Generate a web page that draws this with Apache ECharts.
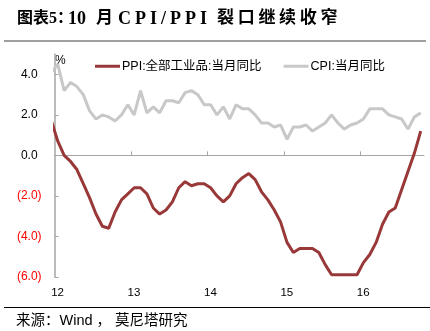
<!DOCTYPE html>
<html>
<head>
<meta charset="utf-8">
<script src="https://cdn.jsdelivr.net/npm/echarts@6/dist/echarts.min.js"></script>
<style>
  html, body { margin: 0; padding: 0; background: #fff; }
  #wrap { position: relative; width: 430px; height: 331px; }
  #chart { width: 430px; height: 331px; }
  #title {
    position: absolute; left: 0; top: 8px; width: 430px; height: 20px; margin: 0;
    font: bold 17px/20px "Liberation Serif", "Noto Sans CJK SC", serif;
    color: #000; white-space: nowrap;
  }
  #title span { position: absolute; top: 0; }
  #title .t1 { left: 17px; font-size: 16px; letter-spacing: 0; }
  #title .t2 { left: 68px; font-size: 18px; }
  #title .t3 { left: 96px; }
  #title .t4 { left: 118px; font-size: 18px; letter-spacing: 4px; }
  #title .t5 { left: 217px; letter-spacing: 3.7px; }
</style>
</head>
<body>
<div id="wrap">
  <div id="chart"></div>
  <div id="title"><span class="t1">图表5：</span><span class="t2">10</span><span class="t3">月</span><span class="t4">CPI/PPI</span><span class="t5">裂口继续收窄</span></div>
</div>
<script>
// Monthly year-on-year change, Dec 2011 .. Oct 2016 (%)
const startYear = 2011;
const startMonth = 12;
const yearLabels = ['12', '13', '14', '15', '16'];
const yTicks = [-6, -4, -2, 0, 2, 4];

const ppiName = 'PPI:全部工业品:当月同比';
const cpiName = 'CPI:当月同比';

const ppi = [1.7,
  0.7, 0.0, -0.3, -0.7, -1.4, -2.1, -2.9, -3.5, -3.6, -2.8, -2.2, -1.9,
  -1.6, -1.6, -1.9, -2.6, -2.9, -2.7, -2.3, -1.6, -1.3, -1.5, -1.4, -1.4,
  -1.6, -2.0, -2.3, -2.0, -1.4, -1.1, -0.9, -1.2, -1.8, -2.2, -2.7, -3.3,
  -4.3, -4.8, -4.6, -4.6, -4.6, -4.8, -5.4, -5.9, -5.9, -5.9, -5.9, -5.9,
  -5.3, -4.9, -4.3, -3.4, -2.8, -2.6, -1.7, -0.8, 0.1, 1.2];

const cpi = [4.1,
  4.5, 3.2, 3.6, 3.4, 3.0, 2.2, 1.8, 2.0, 1.9, 1.7, 2.0, 2.5,
  2.0, 3.2, 2.1, 2.4, 2.1, 2.7, 2.7, 2.6, 3.1, 3.2, 3.0, 2.5,
  2.5, 2.0, 2.4, 1.8, 2.5, 2.3, 2.3, 2.0, 1.6, 1.6, 1.4, 1.5,
  0.8, 1.4, 1.4, 1.5, 1.2, 1.4, 1.6, 2.0, 1.6, 1.3, 1.5, 1.6,
  1.8, 2.3, 2.3, 2.3, 2.0, 1.9, 1.8, 1.3, 1.9, 2.1];

// x is measured in months from Jan 2012; each value sits at mid-month
const firstOffset = (startYear - 2012) * 12 + (startMonth - 1) + 0.5;
const toPoints = arr => arr.map((v, i) => [firstOffset + i, v]);
const yearTicks = yearLabels.map((_, i) => i * 12);

const labelFont = 'Liberation Sans, Arial, sans-serif';
const cjkFont = 'Liberation Sans, Noto Sans CJK SC, sans-serif';

const chart = echarts.init(document.getElementById('chart'), null, { renderer: 'canvas' });

chart.setOption({
  animation: false,
  backgroundColor: '#fff',
  grid: { left: 54.6, right: 6.1, top: 54.2, bottom: 54.2, containLabel: false },
  legend: {
    left: 90,
    top: 55,
    itemWidth: 25,
    itemHeight: 3,
    itemGap: 22,
    icon: 'rect',
    textStyle: { fontSize: 12.5, color: '#000', fontFamily: cjkFont, padding: [0, 0, 0, -3] },
    data: [ppiName, cpiName]
  },
  xAxis: [
    {
      type: 'value', min: 0, max: 58, position: 'bottom',
      axisLine: { show: false, onZero: false },
      axisTick: { show: false },
      splitLine: { show: false },
      axisLabel: {
        customValues: yearTicks,
        formatter: v => yearLabels[Math.round(v / 12)],
        margin: 10, color: '#000', fontSize: 11.5, fontFamily: labelFont,
        padding: [0, 0, 0, 6]
      }
    },
    {
      type: 'value', min: 0, max: 58, position: 'bottom',
      axisLine: { show: true, onZero: true, lineStyle: { color: '#A6A6A6', width: 1.2 } },
      axisTick: { show: true, inside: true, length: 4, customValues: yearTicks.slice(1), lineStyle: { color: '#A6A6A6' } },
      axisLabel: { show: false },
      splitLine: { show: false }
    }
  ],
  yAxis: {
    type: 'value', min: -6, max: 5,
    axisLine: { show: true, lineStyle: { color: '#A6A6A6', width: 1.5 } },
    axisTick: { show: true, inside: true, length: 4, customValues: yTicks, lineStyle: { color: '#A6A6A6' } },
    splitLine: { show: false },
    axisLabel: {
      customValues: yTicks,
      margin: 13,
      formatter: v => v < 0 ? '{neg|(' + Math.abs(v).toFixed(1) + ')}' : '{pos|' + v.toFixed(1) + '}',
      rich: {
        neg: { color: '#FF0000', fontSize: 12, fontFamily: labelFont },
        pos: { color: '#000', fontSize: 12, fontFamily: labelFont, padding: [0, 4, 0, 0] }
      }
    }
  },
  series: [
    {
      name: ppiName, type: 'line', xAxisIndex: 0, data: toPoints(ppi),
      showSymbol: false, symbol: 'none', clip: true,
      lineStyle: { color: '#993838', width: 3 }, itemStyle: { color: '#993838' }, z: 3
    },
    {
      name: cpiName, type: 'line', xAxisIndex: 0, data: toPoints(cpi),
      showSymbol: false, symbol: 'none', clip: true,
      lineStyle: { color: '#C8C8C8', width: 3 }, itemStyle: { color: '#C8C8C8' }, z: 2
    }
  ],
  graphic: [
    { type: 'line', shape: { x1: 4, y1: 41, x2: 426, y2: 41 }, style: { stroke: '#404040', lineWidth: 1.2 } },
    {
      type: 'text', left: 55, top: 55,
      style: { text: '%', font: '12px ' + labelFont, fill: '#000' }
    },
    { type: 'line', shape: { x1: 4, y1: 307.5, x2: 430, y2: 307.5 }, style: { stroke: '#000', lineWidth: 1.2 } },
    {
      type: 'text', left: 16, top: 314,
      style: {
        text: '来源：Wind ， 莫尼塔研究',
        font: '14.5px "Liberation Sans", "Noto Sans CJK SC", sans-serif',
        fill: '#000'
      }
    }
  ]
});
</script>
</body>
</html>
